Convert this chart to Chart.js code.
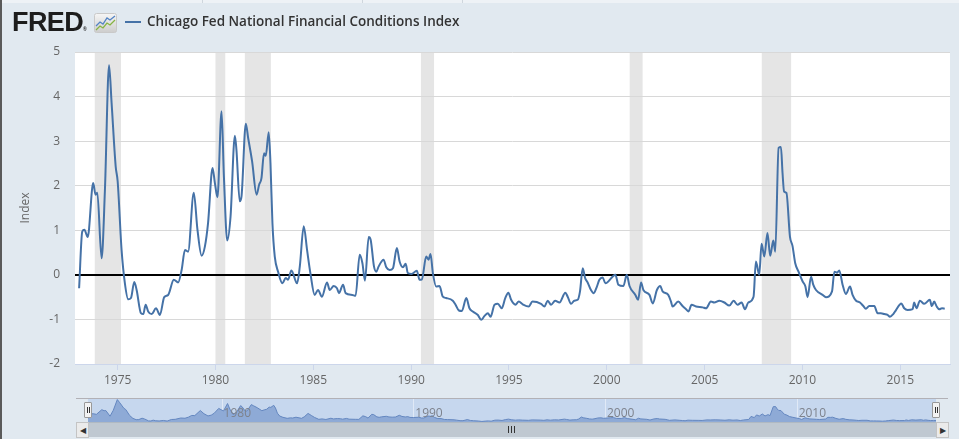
<!DOCTYPE html>
<html>
<head>
<meta charset="utf-8">
<script src="https://cdn.jsdelivr.net/npm/chart.js@4.4.1/dist/chart.umd.min.js"></script>
<style>
  html, body { margin: 0; padding: 0; }
  body { width: 959px; height: 439px; background: #e1e9f0; position: relative; overflow: hidden; font-family: "Open Sans", sans-serif; }
  #topStrip { position: absolute; left: 0; top: 0; width: 959px; height: 3px; background: #eef2f6; }
  .divider { position: absolute; top: 0; width: 1px; height: 3px; background: #cfd6dd; }
  #leftEdge { position: absolute; left: 0; top: 0; width: 2px; height: 439px; background: #5a5a5a; }
  #nfciChart { position: absolute; left: 0; top: 0; }
  #logo { position: absolute; left: 12px; top: 9px; font: bold 27px/27px "Liberation Sans", Arial, sans-serif; color: #1d1d1d; letter-spacing: -0.6px; }
  #logo sup { font-size: 5px; vertical-align: baseline; letter-spacing: 0; }
  #icon { position: absolute; left: 94px; top: 13px; }
  #legendLine { position: absolute; left: 125px; top: 21px; width: 16px; height: 2px; background: #4572a7; }
  #legendText { position: absolute; left: 147px; top: 12px; font: 600 13.5px/18px "Open Sans", sans-serif; color: #333; white-space: nowrap; }
  #navOutline { position: absolute; left: 76px; top: 398px; width: 872px; height: 1px; background: #b2b1b6; }
  #navChart { position: absolute; left: 88px; top: 399px; }
  .handle { position: absolute; top: 402px; width: 6px; height: 14px; background: #f2f2f2; border: 1px solid #999; border-radius: 1px; }
  .handle i { position: absolute; top: 4px; width: 1px; height: 6px; background: #333; }
  #scrollTrack { position: absolute; left: 88px; top: 422px; width: 848px; height: 14px; background: #bfc8d1; border-top: 1px solid #b0b9c2; }
  .scrollBtn { position: absolute; top: 422px; width: 11px; height: 14px; background: #ebebeb; border: 1px solid #c4c4c4; font-size: 8px; line-height: 14px; text-align: center; color: #333; }
  .grip { position: absolute; top: 426px; width: 1px; height: 7px; background: #333; }
</style>
</head>
<body>
<div id="topStrip"></div>
<div class="divider" style="left:202px"></div>
<div class="divider" style="left:362px"></div>
<div class="divider" style="left:462px"></div>
<canvas id="nfciChart" width="959" height="395"></canvas>
<div id="leftEdge"></div>
<div id="logo">FRED<sup>®</sup></div>
<svg id="icon" width="23" height="20" viewBox="0 0 23 20">
  <defs>
    <linearGradient id="iconBg" x1="0" y1="0" x2="0" y2="1">
      <stop offset="0" stop-color="#f6f6f6"/>
      <stop offset="1" stop-color="#cdcdcd"/>
    </linearGradient>
  </defs>
  <rect x="0.5" y="0.5" width="22" height="19" rx="2" fill="url(#iconBg)" stroke="#c9c9c9"/>
  <polyline points="2,13 6,9 9,11 13,5 16,7 21,3" fill="none" stroke="#5283c4" stroke-width="1.3"/>
  <polyline points="2,17 6,13 9,15 13,10 16,12 21,7" fill="none" stroke="#86b443" stroke-width="1.3"/>
</svg>
<div id="legendLine"></div>
<div id="legendText">Chicago Fed National Financial Conditions Index</div>

<div id="navOutline"></div>
<canvas id="navChart" width="848" height="23"></canvas>
<div class="handle" style="left:84px"><i style="left:2px"></i><i style="left:4px"></i></div>
<div class="handle" style="left:932px"><i style="left:2px"></i><i style="left:4px"></i></div>
<div id="scrollTrack"></div>
<div class="scrollBtn" style="left:76px">&#9664;</div>
<div class="scrollBtn" style="left:936px">&#9654;</div>
<div class="grip" style="left:508px"></div>
<div class="grip" style="left:511px"></div>
<div class="grip" style="left:514px"></div>

<script>
// NFCI readings (decimal year, index value)
const years = [
  1973.03, 1973.19, 1973.30, 1973.47, 1973.75, 1973.87, 1973.96, 1974.18, 1974.35, 1974.56,
  1974.69, 1974.90, 1975.00, 1975.20, 1975.37, 1975.54, 1975.68, 1975.85, 1975.97, 1976.19,
  1976.31, 1976.43, 1976.56, 1976.74, 1976.96, 1977.16, 1977.38, 1977.58, 1977.87, 1978.09,
  1978.27, 1978.44, 1978.60, 1978.89, 1979.08, 1979.29, 1979.46, 1979.62, 1979.85, 1979.97,
  1980.10, 1980.31, 1980.43, 1980.60, 1980.77, 1980.99, 1981.07, 1981.24, 1981.33, 1981.55,
  1981.67, 1981.87, 1982.10, 1982.23, 1982.35, 1982.48, 1982.57, 1982.72, 1982.81, 1982.91,
  1983.03, 1983.20, 1983.42, 1983.59, 1983.71, 1983.88, 1984.17, 1984.31, 1984.51, 1984.68,
  1984.85, 1985.07, 1985.24, 1985.44, 1985.70, 1985.84, 1986.04, 1986.21, 1986.31, 1986.52,
  1986.65, 1986.99, 1987.16, 1987.37, 1987.51, 1987.64, 1987.83, 1987.93, 1988.10, 1988.22,
  1988.34, 1988.59, 1988.73, 1988.90, 1989.07, 1989.27, 1989.41, 1989.58, 1989.72, 1989.83,
  1990.01, 1990.29, 1990.43, 1990.55, 1990.77, 1990.89, 1990.99, 1991.11, 1991.28, 1991.45,
  1991.62, 1991.79, 1992.13, 1992.27, 1992.44, 1992.59, 1992.82, 1992.98, 1993.15, 1993.41,
  1993.58, 1993.75, 1993.92, 1994.06, 1994.26, 1994.43, 1994.63, 1994.81, 1994.97, 1995.11,
  1995.33, 1995.50, 1995.70, 1996.01, 1996.20, 1996.64, 1996.81, 1996.98, 1997.15, 1997.36,
  1997.58, 1997.88, 1998.00, 1998.17, 1998.34, 1998.51, 1998.63, 1998.77, 1998.89, 1999.02,
  1999.19, 1999.33, 1999.48, 1999.62, 1999.79, 1999.93, 2000.30, 2000.44, 2000.59, 2000.85,
  2001.02, 2001.16, 2001.46, 2001.60, 2001.75, 2001.87, 2002.18, 2002.35, 2002.56, 2002.73,
  2002.85, 2003.14, 2003.28, 2003.36, 2003.65, 2003.87, 2004.05, 2004.18, 2004.33, 2004.56,
  2004.90, 2005.07, 2005.32, 2005.49, 2005.75, 2006.01, 2006.26, 2006.48, 2006.68, 2006.89,
  2007.06, 2007.23, 2007.50, 2007.62, 2007.79, 2007.91, 2008.05, 2008.21, 2008.35, 2008.51,
  2008.61, 2008.78, 2008.90, 2008.98, 2009.06, 2009.18, 2009.36, 2009.49, 2009.63, 2009.80,
  2010.01, 2010.15, 2010.26, 2010.44, 2010.55, 2010.69, 2011.03, 2011.20, 2011.51, 2011.63,
  2011.77, 2011.88, 2012.05, 2012.22, 2012.43, 2012.56, 2012.74, 2012.94, 2013.11, 2013.24,
  2013.41, 2013.67, 2013.84, 2014.01, 2014.18, 2014.35, 2014.47, 2014.64, 2014.78, 2015.05,
  2015.20, 2015.37, 2015.63, 2015.71, 2015.83, 2016.00, 2016.22, 2016.51, 2016.61, 2016.73,
  2016.86, 2016.99, 2017.13, 2017.27
];
const nfci = [
  -0.30, 0.97, 1.01, 0.85, 2.06, 1.80, 1.84, 0.37, 1.91, 4.70,
  3.86, 2.43, 2.10, 0.56, -0.19, -0.55, -0.52, -0.16, -0.34, -0.86,
  -0.88, -0.67, -0.82, -0.88, -0.75, -0.90, -0.50, -0.45, -0.11, -0.17,
  0.11, 0.56, 0.52, 1.84, 1.01, 0.43, 0.64, 1.16, 2.40, 2.06,
  1.74, 3.67, 2.21, 0.77, 1.31, 3.12, 2.81, 1.65, 1.76, 3.39,
  3.07, 2.55, 1.80, 2.02, 2.17, 2.73, 2.67, 3.20, 2.51, 1.16,
  0.41, 0.07, -0.19, -0.07, -0.11, 0.10, -0.19, 0.19, 1.09, 0.56,
  0.04, -0.45, -0.34, -0.49, -0.17, -0.34, -0.25, -0.30, -0.41, -0.22,
  -0.41, -0.45, -0.47, 0.45, 0.26, -0.13, 0.85, 0.79, 0.19, 0.07,
  0.19, 0.34, 0.17, 0.11, 0.15, 0.60, 0.30, 0.17, 0.25, 0.04,
  0.02, 0.09, -0.11, -0.10, 0.41, 0.34, 0.47, 0.04, -0.26, -0.25,
  -0.49, -0.52, -0.58, -0.67, -0.80, -0.81, -0.52, -0.75, -0.82, -0.90,
  -1.01, -0.92, -0.86, -0.94, -0.67, -0.65, -0.75, -0.52, -0.40, -0.56,
  -0.67, -0.60, -0.66, -0.71, -0.60, -0.65, -0.71, -0.58, -0.67, -0.58,
  -0.62, -0.40, -0.49, -0.65, -0.58, -0.56, -0.37, 0.15, -0.07, -0.17,
  -0.34, -0.41, -0.28, -0.11, -0.06, -0.19, -0.04, 0.00, -0.22, -0.25,
  0.00, -0.25, -0.45, -0.56, -0.17, -0.34, -0.45, -0.64, -0.34, -0.25,
  -0.37, -0.45, -0.60, -0.71, -0.60, -0.70, -0.77, -0.82, -0.67, -0.71,
  -0.73, -0.75, -0.60, -0.62, -0.58, -0.62, -0.69, -0.58, -0.67, -0.62,
  -0.77, -0.62, -0.49, 0.30, 0.00, 0.70, 0.41, 0.94, 0.43, 0.77,
  0.52, 2.85, 2.87, 2.29, 1.87, 1.84, 0.86, 0.65, 0.26, 0.07,
  -0.15, -0.26, -0.50, -0.04, -0.22, -0.34, -0.45, -0.50, -0.37, 0.07,
  0.05, 0.10, -0.22, -0.43, -0.26, -0.45, -0.58, -0.62, -0.70, -0.76,
  -0.70, -0.70, -0.86, -0.86, -0.88, -0.90, -0.94, -0.88, -0.79, -0.64,
  -0.75, -0.79, -0.77, -0.62, -0.75, -0.58, -0.65, -0.56, -0.70, -0.60,
  -0.71, -0.77, -0.75, -0.76
];

// NBER recessions, decimal years
const recessionStart = [1973.83, 1980.00, 1981.50, 1990.50, 2001.17, 2007.92];
const recessionEnd = [1975.17, 1980.50, 1982.83, 1991.17, 2001.83, 2009.42];

const yearTicks = [1975, 1980, 1985, 1990, 1995, 2000, 2005, 2010, 2015];
const navYearTicks = [1980, 1990, 2000, 2010];
const indexTicks = [-2, -1, 0, 1, 2, 3, 4, 5];

const points = years.map((yr, i) => ({ x: yr, y: nfci[i] }));
const labelFont = { family: 'Open Sans', size: 12 };

const plotBackground = {
    id: 'plotBackground',
    beforeDraw(chart) {
        const { ctx, chartArea: a, scales } = chart;
        ctx.save();
        ctx.fillStyle = '#fff';
        ctx.fillRect(a.left, a.top, a.width, a.height);
        // recession shading goes under the grid
        ctx.fillStyle = '#e5e5e5';
        recessionStart.forEach((start, i) => {
            const x1 = scales.x.getPixelForValue(start);
            const x2 = scales.x.getPixelForValue(recessionEnd[i]);
            ctx.fillRect(x1, a.top, x2 - x1, a.height);
        });
        ctx.restore();
    }
};

new Chart(document.getElementById('nfciChart'), {
    type: 'line',
    data: {
        datasets: [{
            data: points,
            borderColor: '#4572a7',
            borderWidth: 2,
            pointRadius: 0,
            cubicInterpolationMode: 'monotone',
            fill: false
        }]
    },
    options: {
        responsive: false,
        animation: false,
        devicePixelRatio: 1,
        layout: { padding: { top: 52, right: 9, left: 0, bottom: 0 } },
        plugins: { legend: { display: false }, tooltip: { enabled: false } },
        scales: {
            x: {
                type: 'linear',
                min: 1972.82,
                max: 2017.54,
                afterBuildTicks: s => { s.ticks = yearTicks.map(v => ({ value: v })); },
                afterFit: s => { s.height = 31; },
                grid: { drawOnChartArea: false, drawTicks: true, tickLength: 6, color: '#ccd6eb' },
                border: { color: '#ccd6eb' },
                ticks: { color: '#666', font: labelFont, padding: 3, maxRotation: 0, autoSkip: false, callback: v => String(v) }
            },
            y: {
                min: -2,
                max: 5,
                afterBuildTicks: s => { s.ticks = indexTicks.map(v => ({ value: v })); },
                afterFit: s => { s.width = 75; },
                grid: {
                    color: c => c.tick.value === 0 ? '#000' : '#d8d8d8',
                    lineWidth: c => c.tick.value === 0 ? 2 : 1,
                    drawTicks: false
                },
                border: { display: false },
                ticks: { color: '#666', font: labelFont, padding: 15, callback: v => String(v) },
                title: { display: true, text: 'Index', color: '#666', font: labelFont, padding: { top: 18, bottom: 0 } }
            }
        }
    },
    plugins: [plotBackground]
});

// navigator strip under the main chart
const navDecor = {
    id: 'navDecor',
    beforeDraw(chart) {
        const { ctx, chartArea: a } = chart;
        ctx.save();
        ctx.fillStyle = '#c6d7ee';
        ctx.fillRect(0, 0, chart.width, chart.height);
        ctx.strokeStyle = 'rgba(255,255,255,0.45)';
        ctx.lineWidth = 1;
        navYearTicks.forEach(v => {
            const x = Math.round(chart.scales.x.getPixelForValue(v)) + 0.5;
            ctx.beginPath();
            ctx.moveTo(x, a.top);
            ctx.lineTo(x, a.bottom);
            ctx.stroke();
        });
        ctx.restore();
    },
    afterDatasetsDraw(chart) {
        const { ctx } = chart;
        ctx.save();
        ctx.fillStyle = '#7d828c';
        ctx.font = '12px "Open Sans"';
        ctx.textBaseline = 'middle';
        navYearTicks.forEach(v => {
            ctx.fillText(String(v), chart.scales.x.getPixelForValue(v) + 2, 15);
        });
        ctx.restore();
    }
};

new Chart(document.getElementById('navChart'), {
    type: 'line',
    data: {
        datasets: [{
            data: points,
            borderColor: '#6487c0',
            borderWidth: 1,
            backgroundColor: '#8eaad6',
            fill: 'start',
            pointRadius: 0,
            tension: 0
        }]
    },
    options: {
        responsive: false,
        animation: false,
        devicePixelRatio: 1,
        layout: { padding: 0 },
        plugins: { legend: { display: false }, tooltip: { enabled: false } },
        scales: {
            x: { type: 'linear', display: false, min: years[0], max: years[years.length - 1] },
            y: { display: false, min: -1.15, max: 4.85 }
        }
    },
    plugins: [navDecor]
});
</script>
</body>
</html>
